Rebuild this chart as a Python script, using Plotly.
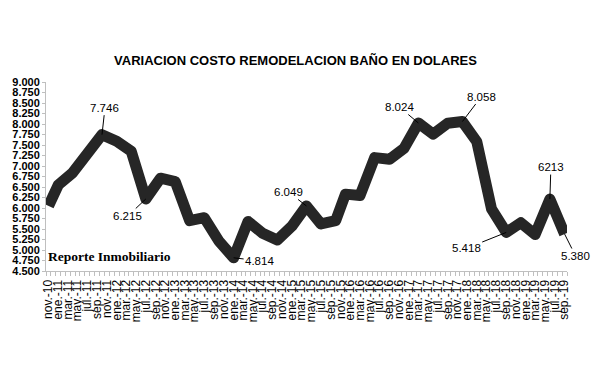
import plotly.graph_objects as go

# ---- data ----
dates = ["2010-11", "2011-01", "2011-04", "2011-07", "2011-10", "2012-01", "2012-04", "2012-07",
         "2012-10", "2013-01", "2013-04", "2013-07", "2013-10", "2014-01", "2014-04", "2014-07",
         "2014-10", "2015-01", "2015-04", "2015-07", "2015-10", "2015-12", "2016-03", "2016-06",
         "2016-09", "2016-12", "2017-03", "2017-06", "2017-09", "2017-12", "2018-03", "2018-06",
         "2018-09", "2018-12", "2019-03", "2019-06", "2019-09"]
values = [6050, 6550, 6840, 7300, 7746, 7590, 7350, 6215,
          6710, 6630, 5700, 5770, 5210, 4814, 5680, 5400,
          5240, 5570, 6049, 5620, 5700, 6330, 6300, 7200,
          7160, 7420, 8024, 7760, 8020, 8058, 7580, 5980,
          5418, 5650, 5370, 6213, 5380]

tick_labels = ["nov.-10",
               "ene.-11", "mar.-11", "may.-11", "jul.-11", "sep.-11", "nov.-11",
               "ene.-12", "mar.-12", "may.-12", "jul.-12", "sep.-12", "nov.-12",
               "ene.-13", "mar.-13", "may.-13", "jul.-13", "sep.-13", "nov.-13",
               "ene.-14", "mar.-14", "may.-14", "jul.-14", "sep.-14", "nov.-14",
               "ene.-15", "mar.-15", "may.-15", "jul.-15", "sep.-15", "nov.-15",
               "ene.-16", "mar.-16", "may.-16", "jul.-16", "sep.-16", "nov.-16",
               "ene.-17", "mar.-17", "may.-17", "jul.-17", "sep.-17", "nov.-17",
               "ene.-18", "mar.-18", "may.-18", "jul.-18", "sep.-18", "nov.-18",
               "ene.-19", "mar.-19", "may.-19", "jul.-19", "sep.-19"]
y_ticks = [4500, 4750, 5000, 5250, 5500, 5750, 6000, 6250, 6500, 6750,
           7000, 7250, 7500, 7750, 8000, 8250, 8500, 8750, 9000]

# labelled points: date, text, text offset (px)
label_dates = ["2011-10", "2012-07", "2014-01", "2015-04", "2017-03", "2017-12", "2018-09", "2019-06", "2019-09"]
label_texts = ["7.746", "6.215", "4.814", "6.049", "8.024", "8.058", "5.418", "6213", "5.380"]
label_offsets = [(3, -27), (-18, 17), (26, 3), (-18, -14), (-19, -16), (19, -25), (-40, 16), (1, -32), (11, 22)]

title = "VARIACION COSTO REMODELACION BAÑO EN DOLARES"
watermark = "Reporte Inmobiliario"

MONTHS = {"ene": 1, "feb": 2, "mar": 3, "abr": 4, "may": 5, "jun": 6,
          "jul": 7, "ago": 8, "sep": 9, "oct": 10, "nov": 11, "dic": 12}
tick_vals = []
for lab in tick_labels:
    m, y = lab.split(".-")
    tick_vals.append(f"20{y}-{MONTHS[m]:02d}-01")

val_by_date = dict(zip(dates, values))

fig = go.Figure()
fig.add_trace(go.Scatter(
    x=[d + "-01" for d in dates], y=values, mode="lines",
    line=dict(color="#262626", width=11),
    hoverinfo="skip", showlegend=False, cliponaxis=False,
))

for d, t, (ax, ay) in zip(label_dates, label_texts, label_offsets):
    fig.add_annotation(
        x=d + "-01", y=val_by_date[d], text=t, showarrow=True,
        arrowhead=0, arrowwidth=1, arrowcolor="#000000",
        ax=ax, ay=ay, standoff=0,
        font=dict(family="Liberation Sans", size=11.5, color="#000000"),
    )

fig.add_annotation(
    xref="paper", yref="paper", x=0.0, y=0.079, xanchor="left", yanchor="middle",
    text=watermark, showarrow=False,
    font=dict(family="Liberation Serif", size=13.5, color="#000000", weight="bold"),
)

fig.update_layout(
    width=591, height=367,
    margin=dict(l=41, r=24, t=82, b=96),
    paper_bgcolor="white", plot_bgcolor="white",
    separators=",.",
    title=dict(text=title, x=0.5, xref="container", xanchor="center",
               y=1 - 60 / 367, yref="container", yanchor="middle",
               font=dict(family="Liberation Sans", size=13, color="#000000", weight="bold")),
)
fig.update_xaxes(
    type="date", range=["2010-10-16", "2019-09-16"],
    tickmode="array", tickvals=tick_vals, ticktext=tick_labels,
    tickangle=-90, tickfont=dict(family="Liberation Sans", size=12, color="#000000"),
    ticks="", showgrid=False, showline=True, linecolor="#bfbfbf", linewidth=1,
    minor=dict(ticks="outside", ticklen=4, tickcolor="#bfbfbf", dtick="M1", tick0="2010-10-16", showgrid=False),
    zeroline=False, ticklabelstandoff=3,
)
fig.update_yaxes(
    range=[4500, 9000], tickmode="array", tickvals=y_ticks, tickformat=",.0f",
    tickfont=dict(family="Liberation Sans", size=11, color="#000000", weight="bold"),
    ticks="outside", ticklen=3, tickcolor="#bfbfbf",
    showgrid=False, showline=True, linecolor="#bfbfbf", linewidth=1, zeroline=False,
)

post = """
document.body.style.margin = '0';
document.querySelectorAll('.scatterlayer path.js-line').forEach(function(p){
  p.style.strokeLinejoin = 'round';
});
"""
fig.write_html("out.html", post_script=post, config={"displayModeBar": False, "staticPlot": True})
